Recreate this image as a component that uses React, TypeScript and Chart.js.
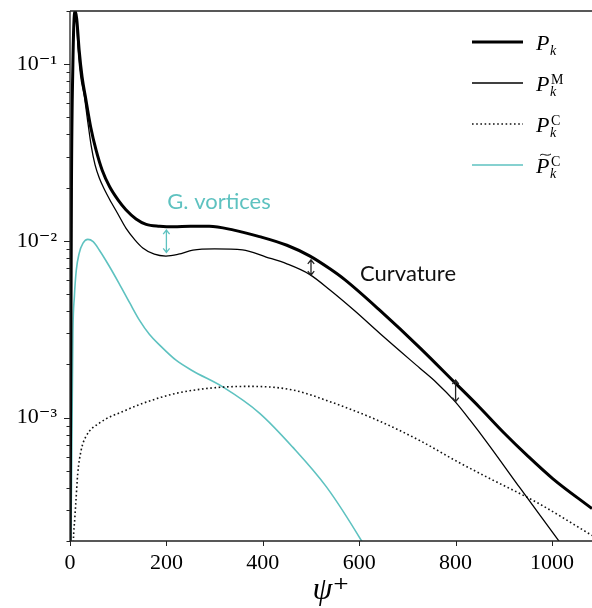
import React, { useEffect, useRef } from 'react';
import { Chart, registerables } from 'chart.js';
Chart.register(...registerables);

// ---- data ----
const totalX = [0, 3, 6, 9, 11, 14, 19, 25, 33, 43, 54, 67, 82, 100, 116, 137, 158, 186, 215, 250, 289, 340, 393, 450, 497, 540, 570, 643, 726, 799, 850, 899, 950, 1002, 1083];
const totalY = [1e-4, 0.02, 0.1, 0.19, 0.2, 0.18, 0.12, 0.085, 0.063, 0.044, 0.0327, 0.025, 0.0203, 0.017, 0.015, 0.0133, 0.0124, 0.0121, 0.012, 0.0121, 0.0121, 0.0115, 0.01057, 0.00944, 0.00822, 0.00692, 0.00603, 0.00404, 0.00248, 0.00157, 0.00114, 0.000826, 0.000605, 0.00045, 0.000305];

const meanX = [0, 3, 6, 9, 11, 14, 17, 22, 30, 37, 44, 52, 61, 72, 82, 100, 116, 135, 151, 175, 199, 225, 255, 300, 358, 407, 450, 497, 540, 590, 643, 726, 760, 799, 830, 865, 934, 1013, 1040];
const meanY = [1e-4, 0.02, 0.1, 0.19, 0.2, 0.165, 0.12, 0.086, 0.065, 0.047, 0.0345, 0.0269, 0.0226, 0.0194, 0.0172, 0.0141, 0.0118, 0.0101, 0.00912, 0.0084, 0.0082, 0.0084, 0.00886, 0.009, 0.0089, 0.0081, 0.00741, 0.00646, 0.00525, 0.00403, 0.00299, 0.0019, 0.00158, 0.00123, 0.000966, 0.000724, 0.000398, 0.000202, 0.00016];

const curvX = [5, 7, 10, 12.4, 16, 23, 33, 61, 116, 150, 220, 324, 379, 463, 532, 636, 726, 800, 865, 969, 1083];
const curvY = [1.2e-4, 2e-4, 2.7e-4, 3.4e-4, 4.8e-4, 6.5e-4, 7.8e-4, 9.3e-4, 1.1e-3, 1.2e-3, 1.37e-3, 1.49e-3, 1.5e-3, 1.43e-3, 1.25e-3, 9.7e-4, 7.4e-4, 5.7e-4, 4.6e-4, 3.3e-4, 2.15e-4];

const vortX = [0, 3, 6, 9, 13, 19, 27, 37, 48, 61, 80, 102, 124, 144, 165, 186, 220, 254, 317, 393, 462, 532, 605, 625];
const vortY = [1e-4, 4e-4, 3e-3, 4.8e-3, 6.8e-3, 8.5e-3, 9.7e-3, 0.0102, 0.0099, 0.00885, 0.0073, 0.00573, 0.00445, 0.00356, 0.00295, 0.00257, 0.00211, 0.00184, 0.00149, 0.00106, 0.00068, 0.000405, 0.0002, 0.00016];

const xTicks = [0, 200, 400, 600, 800, 1000];
const xMin = 0;
const xMax = 1083;
const yMin = 2e-4;
const yMax = 0.2;
const yMinorMantissas = [1, 2, 3, 4, 5, 6, 7, 8, 9];
const yExponents = [-4, -3, -2, -1];

const legendSup = ['', 'M', 'C', 'C'];
const legendTilde = [false, false, false, true];

const arrowX = [200, 500, 800];
const arrowHi = [0.0115, 0.0078, 0.00163];
const arrowLo = [0.0086, 0.0064, 0.00123];

const noteTexts = ['G. vortices', 'Curvature'];

const TEAL = '#5ec2c0';

const pts = (xs: number[], ys: number[]) => xs.map((x, i) => ({ x, y: ys[i] }));

const SUP: Record<string, string> = { '-': '\u207B', '0': '\u2070', '1': '\u00B9', '2': '\u00B2', '3': '\u00B3', '4': '\u2074', '5': '\u2075', '6': '\u2076', '7': '\u2077', '8': '\u2078', '9': '\u2079' };
const toSup = (s: string) => s.split('').map((c) => SUP[c] || c).join('');

function drawArrow(ctx: CanvasRenderingContext2D, x: number, y1: number, y2: number, color: string) {
  const h = 4;
  const w = 3.2;
  ctx.save();
  ctx.strokeStyle = color;
  ctx.lineWidth = 1.3;
  ctx.beginPath();
  ctx.moveTo(x, y1);
  ctx.lineTo(x, y2);
  ctx.moveTo(x - w, y1 + h);
  ctx.lineTo(x, y1);
  ctx.lineTo(x + w, y1 + h);
  ctx.moveTo(x - w, y2 - h);
  ctx.lineTo(x, y2);
  ctx.lineTo(x + w, y2 - h);
  ctx.stroke();
  ctx.restore();
}

const framePlugin = {
  id: 'frame',
  afterDraw(chart: any) {
    const ctx: CanvasRenderingContext2D = chart.ctx;
    const { left, right, top, bottom } = chart.chartArea;
    const xs = chart.scales.x;
    const ys = chart.scales.y;
    ctx.save();
    // spines
    ctx.strokeStyle = '#222';
    ctx.lineWidth = 1.3;
    ctx.beginPath();
    ctx.moveTo(left, top);
    ctx.lineTo(left, bottom);
    ctx.moveTo(left, bottom);
    ctx.lineTo(right, bottom);
    ctx.moveTo(left, top);
    ctx.lineTo(right, top);
    ctx.stroke();
    // x ticks
    ctx.lineWidth = 1;
    ctx.beginPath();
    xs.ticks.forEach((t: any) => {
      const px = Math.round(xs.getPixelForValue(t.value)) + 0.5;
      ctx.moveTo(px, bottom);
      ctx.lineTo(px, bottom + 5);
    });
    ctx.stroke();
    // y ticks (major / minor)
    ctx.beginPath();
    ys.ticks.forEach((t: any) => {
      const py = Math.round(ys.getPixelForValue(t.value)) + 0.5;
      const e = Math.log10(t.value);
      const major = Math.abs(e - Math.round(e)) < 1e-6;
      ctx.moveTo(left, py);
      ctx.lineTo(left - (major ? 6 : 3.5), py);
    });
    ctx.stroke();

    // arrows
    arrowX.forEach((xv, i) => {
      const px = xs.getPixelForValue(xv);
      drawArrow(ctx, px, ys.getPixelForValue(arrowHi[i]), ys.getPixelForValue(arrowLo[i]), i === 0 ? TEAL : '#222');
    });

    // notes
    ctx.font = '22px Lato, "Open Sans", sans-serif';
    ctx.textBaseline = 'alphabetic';
    ctx.textAlign = 'center';
    ctx.fillStyle = TEAL;
    ctx.fillText(noteTexts[0], 219, 209);
    ctx.fillStyle = '#111';
    ctx.fillText(noteTexts[1], 408, 281);

    // legend
    const ds = chart.data.datasets;
    ds.forEach((d: any, i: number) => {
      const ly = 42 + i * 41;
      ctx.save();
      ctx.strokeStyle = d.borderColor;
      ctx.lineWidth = d.borderWidth;
      ctx.setLineDash(d.borderDash || []);
      ctx.beginPath();
      ctx.moveTo(472, ly);
      ctx.lineTo(523, ly);
      ctx.stroke();
      ctx.restore();
      ctx.fillStyle = '#000';
      ctx.textAlign = 'left';
      ctx.textBaseline = 'alphabetic';
      ctx.font = 'italic 22px "Liberation Serif", "DejaVu Serif", serif';
      ctx.fillText('P', 536, ly + 8);
      ctx.font = 'italic 14px "Liberation Serif", "DejaVu Serif", serif';
      ctx.fillText('k', 550, ly + 13);
      if (legendSup[i]) {
        ctx.font = '14px "Liberation Serif", "DejaVu Serif", serif';
        ctx.fillText(legendSup[i], 551, ly + 1);
      }
      if (legendTilde[i]) {
        ctx.strokeStyle = '#000';
        ctx.lineWidth = 1;
        ctx.beginPath();
        const tx = 540;
        const ty = ly - 11;
        ctx.moveTo(tx, ty + 1.5);
        ctx.bezierCurveTo(tx + 3, ty - 2, tx + 6, ty + 3.5, tx + 11, ty);
        ctx.stroke();
      }
    });
    ctx.restore();
  },
};

export default function App() {
  const ref = useRef<HTMLCanvasElement | null>(null);
  useEffect(() => {
    if (!ref.current) return;
    const yTickValues: number[] = [];
    yExponents.forEach((e) => {
      yMinorMantissas.forEach((m) => {
        const v = m * Math.pow(10, e);
        if (v >= yMin * 0.999 && v <= yMax * 1.001) yTickValues.push(v);
      });
    });
    const common = { pointRadius: 0, fill: false, cubicInterpolationMode: 'monotone' as const, tension: 0 };
    const chart = new Chart(ref.current, {
      type: 'line',
      data: {
        datasets: [
          { label: 'P_k', data: pts(totalX, totalY), borderColor: '#000', borderWidth: 3, ...common },
          { label: 'P_k^M', data: pts(meanX, meanY), borderColor: '#000', borderWidth: 1.3, ...common },
          { label: 'P_k^C', data: pts(curvX, curvY), borderColor: '#111', borderWidth: 1.6, borderDash: [1.6, 2.6], ...common },
          { label: '~P_k^C', data: pts(vortX, vortY), borderColor: TEAL, borderWidth: 1.6, ...common },
        ],
      },
      options: {
        animation: false,
        responsive: false,
        maintainAspectRatio: false,
        layout: { padding: { top: 11, right: 0, left: 0, bottom: 0 } },
        plugins: { legend: { display: false }, tooltip: { enabled: false } },
        scales: {
          x: {
            type: 'linear',
            min: xMin,
            max: xMax,
            grid: { display: false, drawTicks: false },
            border: { display: false },
            afterBuildTicks: (s: any) => { s.ticks = xTicks.map((v) => ({ value: v })); },
            afterFit: (s: any) => { s.height = 67; s.paddingLeft = 0; s.paddingRight = 0; },
            ticks: {
              padding: 9,
              autoSkip: false,
              maxRotation: 0,
              color: '#000',
              font: { family: '"Liberation Serif", "DejaVu Serif", serif', size: 22 },
              callback: (v: any) => String(v),
            },
            title: {
              display: true,
              text: '\u03C8\u207A',
              color: '#000',
              font: { family: '"Liberation Serif", "DejaVu Serif", serif', size: 32, style: 'italic', lineHeight: 1 },
              padding: { top: 0, bottom: 1 },
            },
          },
          y: {
            type: 'logarithmic',
            min: yMin,
            max: yMax,
            grid: { display: false, drawTicks: false },
            border: { display: false },
            afterBuildTicks: (s: any) => { s.ticks = yTickValues.map((v) => ({ value: v })); },
            afterFit: (s: any) => { s.width = 70; s.paddingTop = 0; s.paddingBottom = 0; },
            ticks: {
              padding: 13,
              autoSkip: false,
              color: '#000',
              font: { family: '"Liberation Serif", "DejaVu Serif", serif', size: 22 },
              callback: (v: any) => {
                const e = Math.log10(Number(v));
                if (Math.abs(e - Math.round(e)) < 1e-6) return '10' + toSup(String(Math.round(e)));
                return '';
              },
            },
          },
        },
      },
      plugins: [framePlugin],
    });
    return () => chart.destroy();
  }, []);
  return (
    <div style={{ position: 'fixed', left: 0, top: 0, width: 592, height: 608, background: '#fff' }}>
      <canvas ref={ref} width={592} height={608} style={{ display: 'block' }} />
    </div>
  );
}
